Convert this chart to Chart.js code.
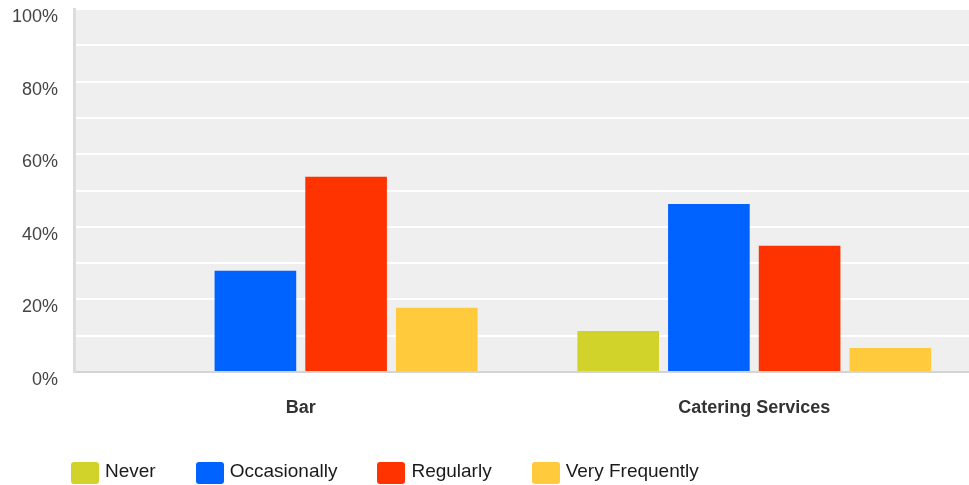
<!DOCTYPE html>
<html>
<head>
<meta charset="utf-8">
<script src="https://cdn.jsdelivr.net/npm/chart.js@4"></script>
<style>
  html, body { margin: 0; padding: 0; overflow: hidden; background: #fff; }
  #wrap { position: relative; width: 985px; height: 485px; }
  #legend { position: absolute; left: 71px; top: 461px; display: flex; font: 19px Arial, "Liberation Sans", sans-serif; color: #1a1a1a; }
  .item { display: flex; align-items: center; margin-right: 40px; height: 23px; }
  .item span.txt { position: relative; top: -2px; }
  .box { width: 28px; height: 22px; border-radius: 3px; margin-right: 6px; }
</style>
</head>
<body>
<div id="wrap">
  <canvas id="chart" width="985" height="485"></canvas>
  <div id="legend"></div>
</div>
<script>
// data
const categories = ['Bar', 'Catering Services'];
const seriesNames = ['Never', 'Occasionally', 'Regularly', 'Very Frequently'];
const never = [0, 11.3];
const occasionally = [27.9, 46.3];
const regularly = [53.8, 34.8];
const veryFrequently = [17.7, 6.6];
const colors = ['#d1d32a', '#0062ff', '#ff3300', '#ffca3c'];

const FONT = 'Arial, "Liberation Sans", sans-serif';

// light gray plot background
const plotBg = {
  id: 'plotBg',
  beforeDraw(chart) {
    const { ctx, chartArea: a } = chart;
    ctx.save();
    ctx.fillStyle = '#efefef';
    ctx.fillRect(a.left, a.top, a.right - a.left, a.bottom - a.top);
    ctx.restore();
  }
};

const values = [never, occasionally, regularly, veryFrequently];

new Chart(document.getElementById('chart'), {
  type: 'bar',
  data: {
    labels: categories,
    datasets: seriesNames.map((name, i) => ({
      label: name,
      data: values[i],
      backgroundColor: colors[i],
      borderWidth: 0,
      categoryPercentage: 0.8,
      barPercentage: 0.9
    }))
  },
  options: {
    responsive: false,
    animation: false,
    layout: { padding: { top: 9, right: 4, left: 0, bottom: 0 } },
    plugins: {
      legend: { display: false },
      tooltip: { enabled: false }
    },
    scales: {
      x: {
        grid: { display: false, drawTicks: false },
        border: { color: '#d4d4d4', width: 2 },
        ticks: { padding: 25, color: '#333', font: { family: FONT, size: 18, weight: 'bold' } },
        afterFit: s => { s.height = 113; s.paddingLeft = 0; s.paddingRight = 0; }
      },
      y: {
        min: 0,
        max: 100,
        ticks: {
          stepSize: 10,
          padding: 16,
          labelOffset: 8,
          color: '#444',
          font: { family: FONT, size: 18 },
          callback: v => (v % 20 === 0 ? v + '%' : '')
        },
        grid: {
          drawTicks: false,
          lineWidth: 2,
          color: c => (c.tick && c.tick.value === 0 ? 'rgba(0,0,0,0)' : '#ffffff')
        },
        border: { color: '#dcdcdc', width: 3 },
        afterFit: s => { s.width = 74; s.paddingTop = 0; s.paddingBottom = 0; }
      }
    }
  },
  plugins: [plotBg]
});

// html legend
const legend = document.getElementById('legend');
seriesNames.forEach((name, i) => {
  const item = document.createElement('div');
  item.className = 'item';
  item.innerHTML = '<span class="box" style="background:' + colors[i] + '"></span><span class="txt">' + name + '</span>';
  legend.appendChild(item);
});
</script>
</body>
</html>
